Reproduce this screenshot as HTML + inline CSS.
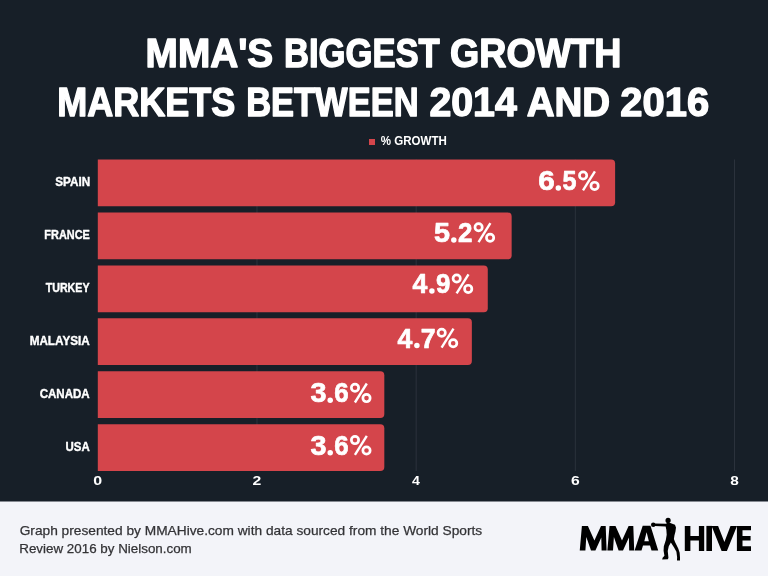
<!DOCTYPE html>
<html><head><meta charset="utf-8"><style>
html,body{margin:0;padding:0;background:#171f28;width:768px;height:576px;overflow:hidden}
svg{display:block;will-change:transform}
text{font-family:"Liberation Sans",sans-serif}
</style></head><body>
<svg width="768" height="576" viewBox="0 0 768 576">
<rect x="0" y="0" width="768" height="576" fill="#171f28"/>
<text x="145.61" y="66.60" font-size="39.970930232558146" font-weight="bold" fill="#fff" textLength="127.61" lengthAdjust="spacingAndGlyphs" stroke="#fff" stroke-width="1.4" stroke-linejoin="round">MMA'S</text>
<text x="283.98" y="66.60" font-size="39.970930232558146" font-weight="bold" fill="#fff" textLength="155.79" lengthAdjust="spacingAndGlyphs" stroke="#fff" stroke-width="1.4" stroke-linejoin="round">BIGGEST</text>
<text x="449.96" y="66.60" font-size="39.970930232558146" font-weight="bold" fill="#fff" textLength="171.38" lengthAdjust="spacingAndGlyphs" stroke="#fff" stroke-width="1.4" stroke-linejoin="round">GROWTH</text>
<text x="57.29" y="115.60" font-size="39.970930232558146" font-weight="bold" fill="#fff" textLength="178.01" lengthAdjust="spacingAndGlyphs" stroke="#fff" stroke-width="1.4" stroke-linejoin="round">MARKETS</text>
<text x="246.19" y="115.60" font-size="39.970930232558146" font-weight="bold" fill="#fff" textLength="172.33" lengthAdjust="spacingAndGlyphs" stroke="#fff" stroke-width="1.4" stroke-linejoin="round">BETWEEN</text>
<text x="429.44" y="115.60" font-size="39.970930232558146" font-weight="bold" fill="#fff" textLength="87.37" lengthAdjust="spacingAndGlyphs" stroke="#fff" stroke-width="1.4" stroke-linejoin="round">2014</text>
<text x="526.64" y="115.60" font-size="39.970930232558146" font-weight="bold" fill="#fff" textLength="83.48" lengthAdjust="spacingAndGlyphs" stroke="#fff" stroke-width="1.4" stroke-linejoin="round">AND</text>
<text x="620.32" y="115.60" font-size="39.970930232558146" font-weight="bold" fill="#fff" textLength="88.83" lengthAdjust="spacingAndGlyphs" stroke="#fff" stroke-width="1.4" stroke-linejoin="round">2016</text>
<rect x="369" y="139" width="6" height="6" fill="#d4454b"/>
<text x="380.71" y="145.00" font-size="13" font-weight="bold" fill="#fff" textLength="66.07" lengthAdjust="spacingAndGlyphs">% GROWTH</text>
<rect x="256.48" y="159.5" width="1" height="311.50" fill="#2b323c"/>
<rect x="415.65" y="159.5" width="1" height="311.50" fill="#2b323c"/>
<rect x="574.83" y="159.5" width="1" height="311.50" fill="#2b323c"/>
<rect x="734.00" y="159.5" width="1" height="311.50" fill="#2b323c"/>
<path d="M97.80,159.50 H611.12 Q615.12,159.50 615.12,163.50 V202.30 Q615.12,206.30 611.12,206.30 H97.80 Z" fill="#d4454b"/>
<text x="55.27" y="185.90" font-size="12.4" font-weight="bold" fill="#fff" textLength="34.90" lengthAdjust="spacingAndGlyphs" stroke="#fff" stroke-width="0.4" stroke-linejoin="round">SPAIN</text>
<text x="538.27" y="190.25" font-size="27.5" font-weight="bold" fill="#fff" textLength="16.45" lengthAdjust="spacingAndGlyphs" stroke="#fff" stroke-width="0.7" stroke-linejoin="round">6</text>
<circle cx="558.30" cy="188.10" r="2.75" fill="#fff"/>
<text x="562.58" y="190.25" font-size="27.5" font-weight="bold" fill="#fff" textLength="13.97" lengthAdjust="spacingAndGlyphs" stroke="#fff" stroke-width="0.7" stroke-linejoin="round">5</text>
<g fill="none" stroke="#fff"><circle cx="583.10" cy="175.50" r="3.65" stroke-width="2.7"/><circle cx="594.60" cy="185.90" r="3.65" stroke-width="2.7"/><line x1="594.90" y1="171.30" x2="583.00" y2="190.30" stroke-width="2.4"/></g>
<path d="M97.80,212.44 H507.66 Q511.66,212.44 511.66,216.44 V255.24 Q511.66,259.24 507.66,259.24 H97.80 Z" fill="#d4454b"/>
<text x="44.37" y="238.84" font-size="12.4" font-weight="bold" fill="#fff" textLength="45.46" lengthAdjust="spacingAndGlyphs" stroke="#fff" stroke-width="0.4" stroke-linejoin="round">FRANCE</text>
<text x="433.97" y="242.05" font-size="27.5" font-weight="bold" fill="#fff" textLength="15.98" lengthAdjust="spacingAndGlyphs" stroke="#fff" stroke-width="0.7" stroke-linejoin="round">5</text>
<circle cx="453.80" cy="239.90" r="2.75" fill="#fff"/>
<text x="457.95" y="242.05" font-size="27.5" font-weight="bold" fill="#fff" textLength="14.44" lengthAdjust="spacingAndGlyphs" stroke="#fff" stroke-width="0.7" stroke-linejoin="round">2</text>
<g fill="none" stroke="#fff"><circle cx="478.60" cy="227.30" r="3.65" stroke-width="2.7"/><circle cx="490.10" cy="237.70" r="3.65" stroke-width="2.7"/><line x1="490.40" y1="223.10" x2="478.50" y2="242.10" stroke-width="2.4"/></g>
<path d="M97.80,265.38 H483.78 Q487.78,265.38 487.78,269.38 V308.18 Q487.78,312.18 483.78,312.18 H97.80 Z" fill="#d4454b"/>
<text x="45.68" y="291.78" font-size="12.4" font-weight="bold" fill="#fff" textLength="43.89" lengthAdjust="spacingAndGlyphs" stroke="#fff" stroke-width="0.4" stroke-linejoin="round">TURKEY</text>
<text x="412.55" y="293.25" font-size="27.5" font-weight="bold" fill="#fff" textLength="14.85" lengthAdjust="spacingAndGlyphs" stroke="#fff" stroke-width="0.7" stroke-linejoin="round">4</text>
<circle cx="431.90" cy="291.10" r="2.75" fill="#fff"/>
<text x="436.06" y="293.25" font-size="27.5" font-weight="bold" fill="#fff" textLength="14.35" lengthAdjust="spacingAndGlyphs" stroke="#fff" stroke-width="0.7" stroke-linejoin="round">9</text>
<g fill="none" stroke="#fff"><circle cx="456.70" cy="278.50" r="3.65" stroke-width="2.7"/><circle cx="468.20" cy="288.90" r="3.65" stroke-width="2.7"/><line x1="468.50" y1="274.30" x2="456.60" y2="293.30" stroke-width="2.4"/></g>
<path d="M97.80,318.32 H467.86 Q471.86,318.32 471.86,322.32 V361.12 Q471.86,365.12 467.86,365.12 H97.80 Z" fill="#d4454b"/>
<text x="29.68" y="344.72" font-size="12.4" font-weight="bold" fill="#fff" textLength="60.02" lengthAdjust="spacingAndGlyphs" stroke="#fff" stroke-width="0.4" stroke-linejoin="round">MALAYSIA</text>
<text x="397.55" y="347.55" font-size="27.5" font-weight="bold" fill="#fff" textLength="14.85" lengthAdjust="spacingAndGlyphs" stroke="#fff" stroke-width="0.7" stroke-linejoin="round">4</text>
<circle cx="416.90" cy="345.40" r="2.75" fill="#fff"/>
<text x="420.81" y="347.55" font-size="27.5" font-weight="bold" fill="#fff" textLength="14.82" lengthAdjust="spacingAndGlyphs" stroke="#fff" stroke-width="0.7" stroke-linejoin="round">7</text>
<g fill="none" stroke="#fff"><circle cx="441.70" cy="332.80" r="3.65" stroke-width="2.7"/><circle cx="453.20" cy="343.20" r="3.65" stroke-width="2.7"/><line x1="453.50" y1="328.60" x2="441.60" y2="347.60" stroke-width="2.4"/></g>
<path d="M97.80,371.26 H380.32 Q384.32,371.26 384.32,375.26 V414.06 Q384.32,418.06 380.32,418.06 H97.80 Z" fill="#d4454b"/>
<text x="39.63" y="397.66" font-size="12.4" font-weight="bold" fill="#fff" textLength="50.08" lengthAdjust="spacingAndGlyphs" stroke="#fff" stroke-width="0.4" stroke-linejoin="round">CANADA</text>
<text x="310.59" y="402.45" font-size="27.5" font-weight="bold" fill="#fff" textLength="16.00" lengthAdjust="spacingAndGlyphs" stroke="#fff" stroke-width="0.7" stroke-linejoin="round">3</text>
<circle cx="330.20" cy="400.30" r="2.75" fill="#fff"/>
<text x="334.30" y="402.45" font-size="27.5" font-weight="bold" fill="#fff" textLength="14.38" lengthAdjust="spacingAndGlyphs" stroke="#fff" stroke-width="0.7" stroke-linejoin="round">6</text>
<g fill="none" stroke="#fff"><circle cx="355.00" cy="387.70" r="3.65" stroke-width="2.7"/><circle cx="366.50" cy="398.10" r="3.65" stroke-width="2.7"/><line x1="366.80" y1="383.50" x2="354.90" y2="402.50" stroke-width="2.4"/></g>
<path d="M97.80,424.20 H380.32 Q384.32,424.20 384.32,428.20 V467.00 Q384.32,471.00 380.32,471.00 H97.80 Z" fill="#d4454b"/>
<text x="65.51" y="450.60" font-size="12.4" font-weight="bold" fill="#fff" textLength="24.19" lengthAdjust="spacingAndGlyphs" stroke="#fff" stroke-width="0.4" stroke-linejoin="round">USA</text>
<text x="310.59" y="454.85" font-size="27.5" font-weight="bold" fill="#fff" textLength="16.00" lengthAdjust="spacingAndGlyphs" stroke="#fff" stroke-width="0.7" stroke-linejoin="round">3</text>
<circle cx="330.20" cy="452.70" r="2.75" fill="#fff"/>
<text x="334.30" y="454.85" font-size="27.5" font-weight="bold" fill="#fff" textLength="14.38" lengthAdjust="spacingAndGlyphs" stroke="#fff" stroke-width="0.7" stroke-linejoin="round">6</text>
<g fill="none" stroke="#fff"><circle cx="355.00" cy="440.10" r="3.65" stroke-width="2.7"/><circle cx="366.50" cy="450.50" r="3.65" stroke-width="2.7"/><line x1="366.80" y1="435.90" x2="354.90" y2="454.90" stroke-width="2.4"/></g>
<text x="93.37" y="485.30" font-size="12.6" font-weight="bold" fill="#fff" textLength="8.89" lengthAdjust="spacingAndGlyphs">0</text>
<text x="252.63" y="485.30" font-size="12.6" font-weight="bold" fill="#fff" textLength="8.78" lengthAdjust="spacingAndGlyphs">2</text>
<text x="412.14" y="485.30" font-size="12.6" font-weight="bold" fill="#fff" textLength="7.89" lengthAdjust="spacingAndGlyphs">4</text>
<text x="570.95" y="485.30" font-size="12.6" font-weight="bold" fill="#fff" textLength="8.74" lengthAdjust="spacingAndGlyphs">6</text>
<text x="730.21" y="485.30" font-size="12.6" font-weight="bold" fill="#fff" textLength="8.56" lengthAdjust="spacingAndGlyphs">8</text>
<rect x="0" y="501.5" width="768" height="74.5" fill="#f3f4f9"/>
<text x="19.69" y="535.48" font-size="13.2" font-weight="normal" fill="#333336" textLength="462.48" lengthAdjust="spacingAndGlyphs" stroke="#333336" stroke-width="0.25" stroke-linejoin="round">Graph presented by MMAHive.com with data sourced from the World Sports</text>
<text x="19.28" y="553.38" font-size="13.2" font-weight="normal" fill="#333336" textLength="172.48" lengthAdjust="spacingAndGlyphs" stroke="#333336" stroke-width="0.25" stroke-linejoin="round">Review 2016 by Nielson.com</text>
<polygon points="579.75,550.60 581.90,525.90 587.90,525.90 594.40,540.60 601.00,525.90 605.70,525.90 606.60,550.60 601.60,550.60 601.30,537.50 595.40,550.60 591.00,550.60 586.30,536.90 585.40,550.60" fill="#000"/>
<polygon points="607.35,550.60 609.50,525.90 615.50,525.90 622.00,540.60 628.60,525.90 633.30,525.90 634.20,550.60 629.20,550.60 628.90,537.50 623.00,550.60 618.60,550.60 613.90,536.90 613.00,550.60" fill="#000"/>
<polygon points="634.60,550.60 642.70,525.80 650.50,525.80 658.20,550.60 651.50,550.60 650.00,545.50 643.00,545.50 641.50,550.60" fill="#000"/>
<polygon points="644.3,541.3 646.6,532.2 648.9,541.3" fill="#f3f4f9"/>
<polygon points="684.80,525.90 690.40,525.90 690.40,536.00 698.90,536.00 698.90,525.90 704.20,525.90 704.20,551.00 698.90,551.00 698.90,540.60 690.40,540.60 690.40,551.00 684.80,551.00" fill="#000"/>
<rect x="706.4" y="525.9" width="5.6" height="25.1" fill="#000"/>
<polygon points="711.60,525.90 718.10,525.90 724.40,541.90 730.50,525.90 737.00,525.90 726.90,551.00 721.60,551.00" fill="#000"/>
<polygon points="736.90,525.90 751.00,525.90 751.00,530.30 742.50,530.30 742.50,536.00 750.60,536.00 750.60,540.60 742.50,540.60 742.50,546.30 751.00,546.30 751.00,551.00 736.90,551.00" fill="#000"/>
<g fill="#000" transform="translate(645,512) scale(0.0868)">
<circle cx="95" cy="146" r="26"/>
<ellipse cx="266" cy="98" rx="30" ry="31"/>
<path d="M110,132 L240,136 L262,124 L292,128 L345,148 L357,180 L351,225 L339,270 L333,310 L346,345 L383,420 L399,470 L403,520 L404,558 L368,558 L370,520 L362,458 L335,408 L298,352 L274,395 L262,450 L270,526 L264,543 L198,546 L203,528 L224,505 L214,445 L217,395 L240,322 L250,262 L246,204 L238,168 L110,160 Z"/>
</g>
</svg>
</body></html>
